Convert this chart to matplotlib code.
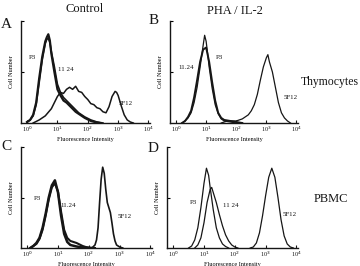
import numpy as np
import matplotlib
matplotlib.use('Agg')
import matplotlib.pyplot as plt

plt.rcParams['font.family'] = ['Liberation Serif', 'DejaVu Serif']

# histogram data: log10 fluorescence channel -> relative cell number
# panel A, control thymocytes
a_p3_x = [0.0, 0.1, 0.2, 0.3, 0.4, 0.5, 0.6, 0.65, 0.7, 0.75, 0.8, 0.9, 1.0, 1.1, 1.2, 1.3, 1.4, 1.5, 1.6, 1.7, 1.8, 1.9, 2.0, 2.1, 2.2, 2.3, 2.4]
a_p3_y = [0.01, 0.03, 0.08, 0.2, 0.44, 0.65, 0.8, 0.84, 0.87, 0.81, 0.68, 0.5, 0.33, 0.27, 0.22, 0.2, 0.17, 0.14, 0.11, 0.09, 0.07, 0.05, 0.035, 0.02, 0.012, 0.006, 0.0]
a_1124_x = [0.0, 0.1, 0.2, 0.3, 0.4, 0.5, 0.6, 0.65, 0.7, 0.75, 0.8, 0.9, 1.0, 1.1, 1.2, 1.3, 1.4, 1.5, 1.6, 1.7, 1.8, 1.9, 2.0, 2.1, 2.2, 2.3, 2.4, 2.5]
a_1124_y = [0.01, 0.03, 0.07, 0.18, 0.4, 0.62, 0.78, 0.82, 0.83, 0.79, 0.7, 0.55, 0.38, 0.3, 0.25, 0.22, 0.19, 0.16, 0.13, 0.1, 0.08, 0.06, 0.045, 0.03, 0.02, 0.01, 0.005, 0.0]
a_5f12_x = [0.2, 0.4, 0.6, 0.8, 1.0, 1.1, 1.2, 1.3, 1.4, 1.5, 1.6, 1.7, 1.8, 1.9, 2.0, 2.1, 2.2, 2.3, 2.4, 2.5, 2.6, 2.7, 2.8, 2.9, 2.95, 3.0, 3.1, 3.2, 3.3, 3.4, 3.5]
a_5f12_y = [0.0, 0.03, 0.07, 0.14, 0.26, 0.3, 0.29, 0.33, 0.35, 0.33, 0.36, 0.31, 0.3, 0.26, 0.23, 0.19, 0.18, 0.15, 0.14, 0.11, 0.1, 0.16, 0.26, 0.31, 0.3, 0.27, 0.17, 0.08, 0.03, 0.01, 0.0]

# panel B, PHA / IL-2 thymocytes
b_p3_x = [0.2, 0.3, 0.4, 0.5, 0.6, 0.7, 0.8, 0.9, 0.95, 1.0, 1.05, 1.1, 1.2, 1.3, 1.4, 1.5, 1.6, 1.8, 2.0]
b_p3_y = [0.0, 0.02, 0.05, 0.1, 0.2, 0.35, 0.55, 0.76, 0.86, 0.8, 0.68, 0.55, 0.34, 0.18, 0.09, 0.04, 0.02, 0.01, 0.0]
b_1124_x = [0.2, 0.3, 0.4, 0.5, 0.6, 0.7, 0.8, 0.9, 1.0, 1.1, 1.2, 1.3, 1.4, 1.5, 1.6, 1.8, 2.0, 2.2]
b_1124_y = [0.0, 0.02, 0.06, 0.12, 0.25, 0.42, 0.6, 0.72, 0.74, 0.6, 0.4, 0.22, 0.1, 0.05, 0.03, 0.02, 0.01, 0.0]
b_5f12_x = [1.5, 1.7, 2.0, 2.2, 2.4, 2.5, 2.6, 2.7, 2.8, 2.9, 3.0, 3.05, 3.1, 3.2, 3.3, 3.4, 3.5, 3.6, 3.7, 3.8]
b_5f12_y = [0.0, 0.02, 0.02, 0.04, 0.08, 0.12, 0.18, 0.28, 0.42, 0.55, 0.64, 0.67, 0.6, 0.5, 0.35, 0.2, 0.1, 0.05, 0.02, 0.0]

# panel C, control PBMC
c_p3_x = [0.1, 0.2, 0.3, 0.4, 0.5, 0.6, 0.7, 0.8, 0.9, 1.0, 1.1, 1.2, 1.3, 1.4, 1.6, 1.8, 2.0]
c_p3_y = [0.0, 0.02, 0.05, 0.1, 0.2, 0.34, 0.5, 0.62, 0.67, 0.55, 0.32, 0.14, 0.06, 0.03, 0.015, 0.005, 0.0]
c_1124_x = [0.1, 0.3, 0.4, 0.5, 0.6, 0.7, 0.8, 0.9, 1.0, 1.1, 1.2, 1.3, 1.4, 1.5, 1.6, 1.7, 1.8, 1.9, 2.0, 2.2]
c_1124_y = [0.0, 0.04, 0.09, 0.18, 0.32, 0.48, 0.6, 0.64, 0.56, 0.36, 0.18, 0.1, 0.07, 0.06, 0.05, 0.035, 0.02, 0.01, 0.005, 0.0]
c_5f12_x = [2.1, 2.2, 2.25, 2.3, 2.35, 2.4, 2.45, 2.5, 2.55, 2.6, 2.65, 2.7, 2.75, 2.8, 2.85, 2.9, 3.0, 3.1]
c_5f12_y = [0.0, 0.03, 0.08, 0.2, 0.45, 0.68, 0.8, 0.74, 0.58, 0.45, 0.4, 0.35, 0.25, 0.14, 0.07, 0.03, 0.01, 0.0]

# panel D, PHA / IL-2 PBMC
d_p3_x = [0.5, 0.6, 0.7, 0.8, 0.9, 1.0, 1.08, 1.15, 1.2, 1.3, 1.4, 1.5, 1.6, 1.7, 1.8]
d_p3_y = [0.0, 0.02, 0.08, 0.2, 0.4, 0.64, 0.79, 0.72, 0.6, 0.38, 0.2, 0.1, 0.04, 0.015, 0.0]
d_1124_x = [0.7, 0.8, 0.9, 1.0, 1.1, 1.2, 1.25, 1.3, 1.4, 1.5, 1.6, 1.7, 1.8, 1.9, 2.0, 2.1]
d_1124_y = [0.0, 0.03, 0.1, 0.25, 0.45, 0.58, 0.6, 0.55, 0.45, 0.33, 0.22, 0.13, 0.07, 0.03, 0.01, 0.0]
d_5f12_x = [2.5, 2.6, 2.7, 2.8, 2.9, 3.0, 3.1, 3.2, 3.3, 3.4, 3.5, 3.6, 3.7, 3.8, 3.9]
d_5f12_y = [0.0, 0.01, 0.05, 0.15, 0.32, 0.52, 0.7, 0.79, 0.7, 0.5, 0.28, 0.12, 0.04, 0.01, 0.0]

tick_vals = [1, 10, 100, 1000, 10000]
tick_labels = ['10$^0$', '10$^1$', '10$^2$', '10$^3$', '10$^4$']

W, H = 360, 266
fig = plt.figure(figsize=(W / 100, H / 100), dpi=100)
ink = '#161616'


def px_axes(x0, x1, y0, y1):
    return fig.add_axes([x0 / W, 1 - y1 / H, (x1 - x0) / W, (y1 - y0) / H])


def setup(ax, xlabel=True):
    ax.set_xscale('log')
    ax.set_xlim(10 ** -0.2, 10 ** 4.05)
    ax.set_ylim(0, 1)
    for s in ['top', 'right']:
        ax.spines[s].set_visible(False)
    for s in ['left', 'bottom']:
        ax.spines[s].set_linewidth(1.0)
        ax.spines[s].set_color(ink)
    ax.set_xticks(tick_vals)
    ax.set_xticklabels(tick_labels, fontsize=4.5)
    ax.xaxis.set_minor_locator(matplotlib.ticker.NullLocator())
    ax.tick_params(axis='x', length=2, width=0.8, direction='in', pad=1.5, colors=ink)
    ax.set_yticks([0.5, 1.0])
    ax.set_yticklabels([])
    ax.tick_params(axis='y', length=2, width=0.8, direction='in')
    ax.set_ylabel('Cell Number', fontsize=4.5, labelpad=1.5)
    if xlabel:
        ax.set_xlabel('Fluorescence Intensity', fontsize=4.5, labelpad=2)
    ax.patch.set_alpha(0)


def curve(ax, xs, ys, lw):
    ax.plot(10 ** np.array(xs), ys, color=ink, lw=lw)


ax_a = px_axes(21, 150, 21, 123)
ax_b = px_axes(170, 298, 21, 123)
ax_c = px_axes(21, 152, 147, 248)
ax_d = px_axes(167, 298, 147, 248)
for ax in [ax_a, ax_b, ax_c, ax_d]:
    setup(ax)

curve(ax_a, a_p3_x, a_p3_y, 1.6)
curve(ax_a, a_1124_x, a_1124_y, 1.2)
curve(ax_a, a_5f12_x, a_5f12_y, 1.1)

curve(ax_b, b_p3_x, b_p3_y, 0.9)
curve(ax_b, b_1124_x, b_1124_y, 1.4)
curve(ax_b, b_5f12_x, b_5f12_y, 0.9)

curve(ax_c, c_p3_x, c_p3_y, 1.8)
curve(ax_c, c_1124_x, c_1124_y, 1.5)
curve(ax_c, c_5f12_x, c_5f12_y, 1.2)

curve(ax_d, d_p3_x, d_p3_y, 0.9)
curve(ax_d, d_1124_x, d_1124_y, 0.9)
curve(ax_d, d_5f12_x, d_5f12_y, 0.9)

lab = dict(fontsize=5, ha='center', va='center', color=ink)
ax_a.text(0.09, 0.64, 'P3', transform=ax_a.transAxes, **lab)
ax_a.text(0.35, 0.52, '11 24', transform=ax_a.transAxes, **lab)
ax_a.text(0.81, 0.19, '5F12', transform=ax_a.transAxes, **lab)
ax_b.text(0.13, 0.54, '11.24', transform=ax_b.transAxes, **lab)
ax_b.text(0.39, 0.64, 'P3', transform=ax_b.transAxes, **lab)
ax_b.text(0.945, 0.25, '5F12', transform=ax_b.transAxes, **lab)
ax_c.text(0.126, 0.495, 'P3', transform=ax_c.transAxes, **lab)
ax_c.text(0.36, 0.425, '11.24', transform=ax_c.transAxes, **lab)
ax_c.text(0.79, 0.31, '5F12', transform=ax_c.transAxes, **lab)
ax_d.text(0.2, 0.455, 'P3', transform=ax_d.transAxes, **lab)
ax_d.text(0.49, 0.425, '11 24', transform=ax_d.transAxes, **lab)
ax_d.text(0.94, 0.33, '5F12', transform=ax_d.transAxes, **lab)


def ftext(x, y, s, size, ha='left'):
    fig.text(x / W, 1 - y / H, s, fontsize=size, ha=ha, va='center', color=ink)


ftext(85, 9, 'Control', 9, ha='center')
ftext(235, 11, 'PHA / IL-2', 9, ha='center')
ftext(359, 82, 'Thymocytes', 8.5, ha='right')
ftext(314, 199, 'PBMC', 9)
ftext(1, 24, 'A', 11)
ftext(149, 20, 'B', 11)
ftext(1, 146, 'C', 11)
ftext(148, 149, 'D', 11)

fig.savefig('out.png', dpi=100)
